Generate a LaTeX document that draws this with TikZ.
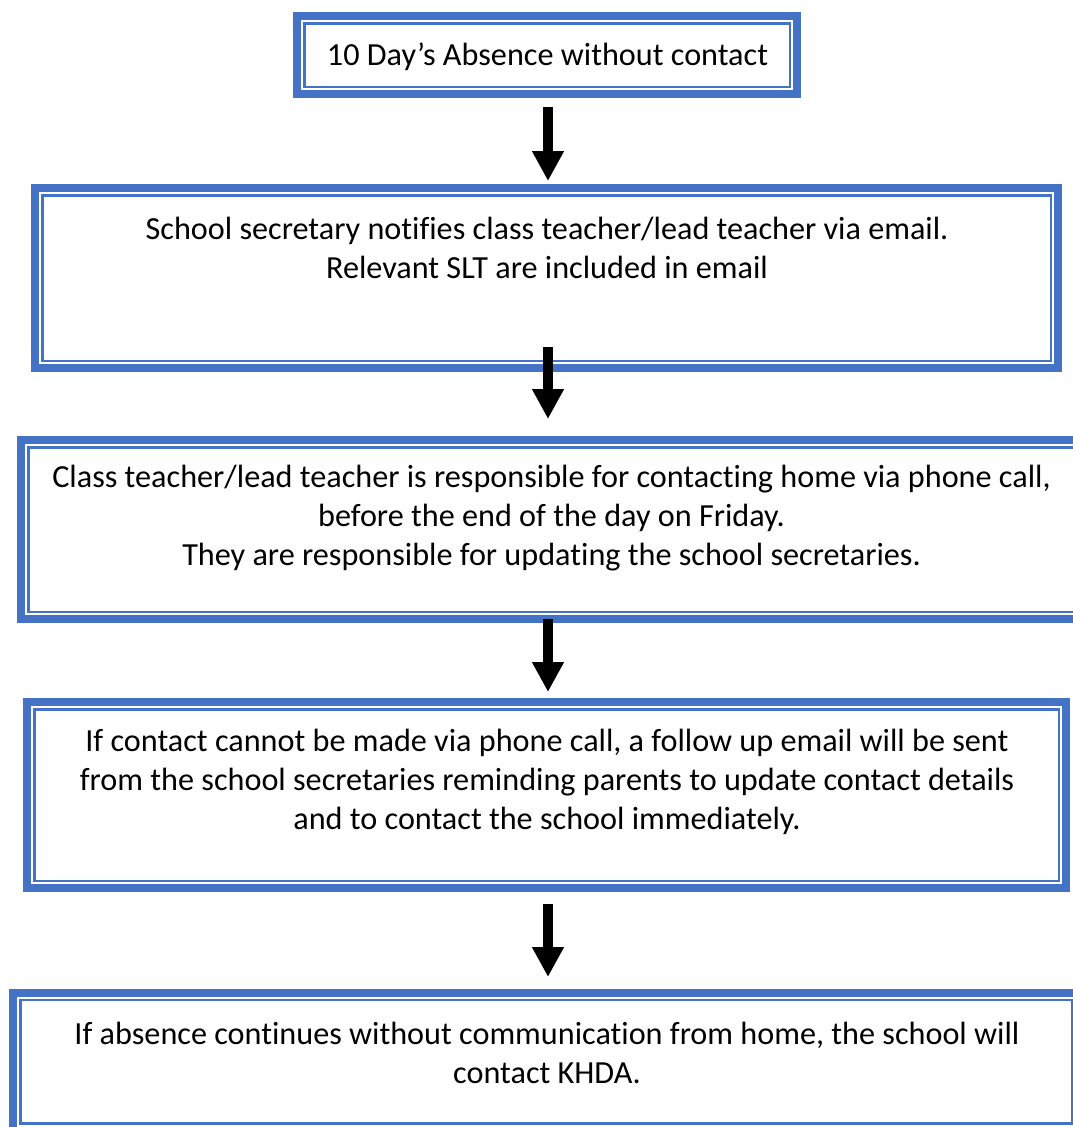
\documentclass[tikz,border=0pt]{standalone}
\usepackage{fontspec}
\setmainfont{Carlito}[Ligatures={NoCommon}]
\usetikzlibrary{fit,arrows.meta}
\definecolor{boxblue}{HTML}{4472C4}
\tikzset{
  innerbox/.style={draw=boxblue, line width=2.5pt, outer sep=0pt, inner sep=0pt, rectangle},
  outerbox/.style={draw=boxblue, line width=8pt, outer sep=0pt, inner sep=7.25pt, rectangle},
  txt/.style={align=center, font=\fontsize{32.2}{39}\selectfont, inner sep=0pt, text=black},
  fatarrow/.style={line width=10pt, -{Triangle[width=30pt,length=30pt]}}
}
\begin{document}
\begin{tikzpicture}[x=1pt,y=-1pt]
\useasboundingbox (0,0) rectangle (1073,1127);
\clip (0,0) rectangle (1073,1127);
% box 1
\node[innerbox, minimum width=485.5pt, minimum height=63.5pt] (b1) at (547,55) {};
\node[outerbox, fit=(b1)] (b1o) {};
\node[txt] (t1) at (547.5,57) {10 Day’s Absence without contact};
% box 2
\node[innerbox, minimum width=1008.5pt, minimum height=165.5pt] (b2) at (546.5,278) {};
\node[outerbox, fit=(b2)] (b2o) {};
\node[txt] (t2) at (547,247.5) {School secretary notifies class teacher/lead teacher via email.\\Relevant SLT are included in email};
% box 3
\node[innerbox, minimum width=1050.5pt, minimum height=164.5pt] (b3) at (553.5,529.5) {};
\node[outerbox, fit=(b3)] (b3o) {};
\node[txt] (t3) at (551.5,518) {Class teacher/lead teacher is responsible for contacting home via phone call,\\before the end of the day on Friday.\\They are responsible for updating the school secretaries.};
% box 4
\node[innerbox, minimum width=1024.5pt, minimum height=171.5pt] (b4) at (546.5,795) {};
\node[outerbox, fit=(b4)] (b4o) {};
\node[txt] (t4) at (547,782) {If contact cannot be made via phone call, a follow up email will be sent\\from the school secretaries reminding parents to update contact details\\and to contact the school immediately.};
% box 5
\node[innerbox, minimum width=1051.5pt, minimum height=123.5pt] (b5) at (546,1061.75) {};
\node[outerbox, fit=(b5)] (b5o) {};
\node[txt] (t5) at (547,1052.5) {If absence continues without communication from home, the school will\\contact KHDA.};
% arrows
\coordinate (a1s) at (548,107);
\coordinate (a1e) at (548,181);
\coordinate (a2s) at (548,347);
\coordinate (a2e) at (548,419);
\coordinate (a3s) at (548,619);
\coordinate (a3e) at (548,692);
\coordinate (a4s) at (548,904);
\coordinate (a4e) at (548,977);
\draw[fatarrow] (a1s) -- (a1e);
\draw[fatarrow] (a2s) -- (a2e);
\draw[fatarrow] (a3s) -- (a3e);
\draw[fatarrow] (a4s) -- (a4e);
\end{tikzpicture}
\end{document}
